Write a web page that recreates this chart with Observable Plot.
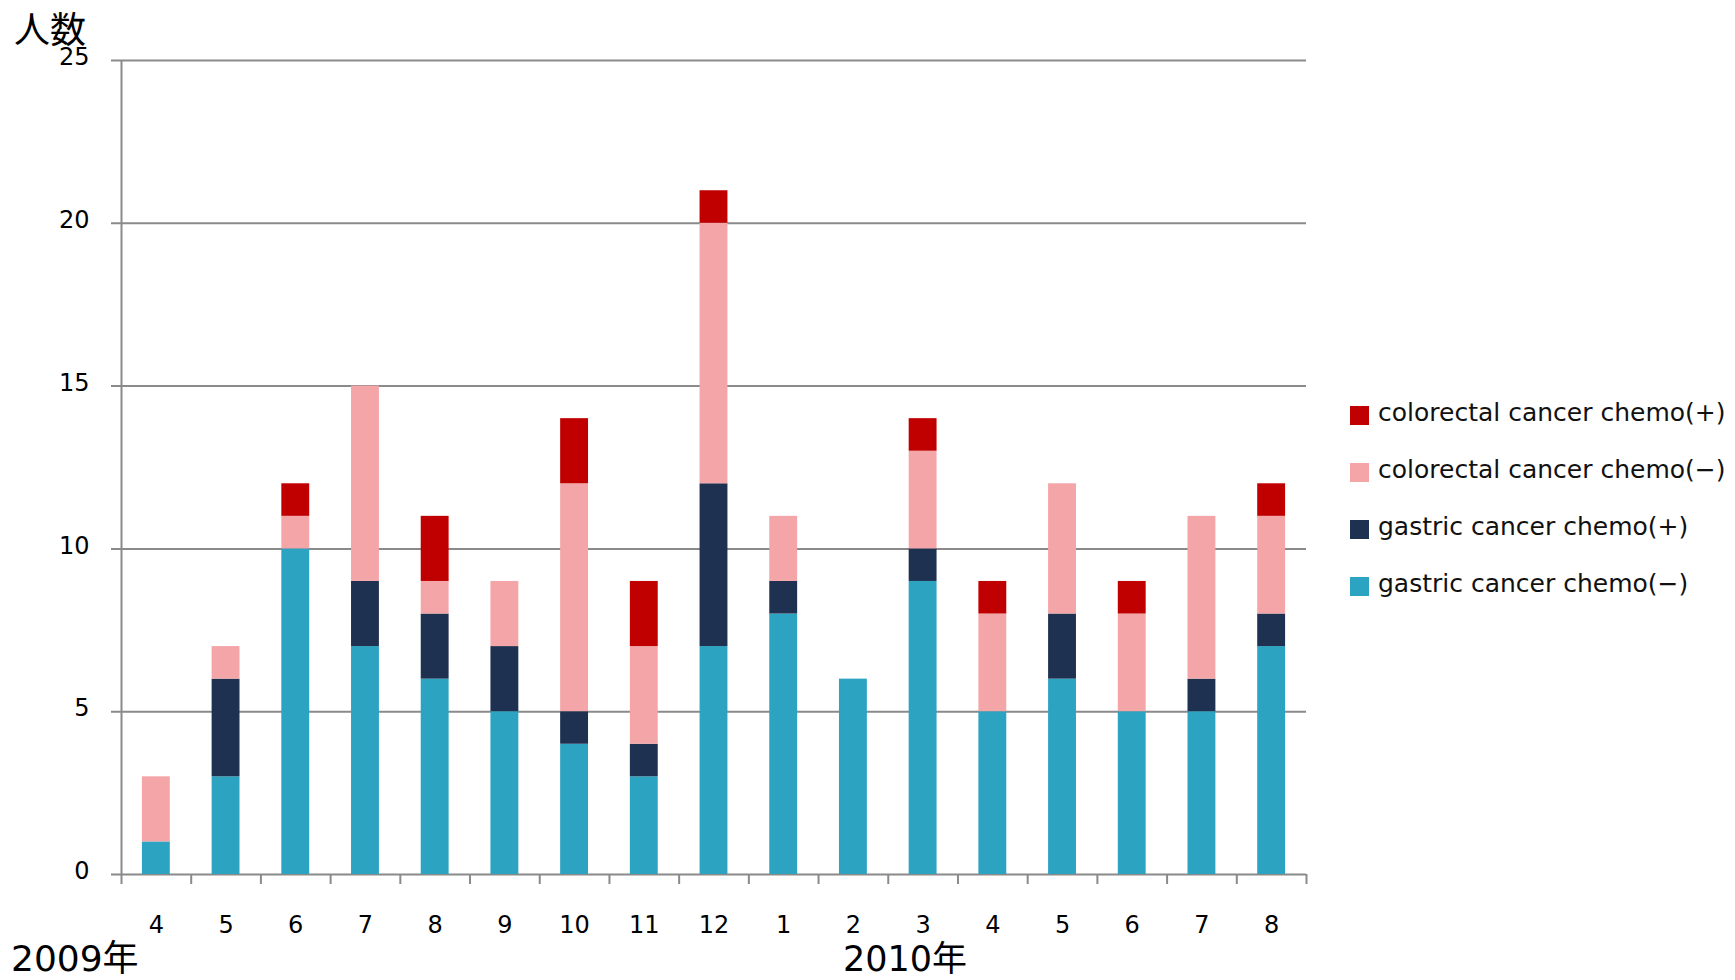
<!DOCTYPE html>
<html>
<head>
<meta charset="utf-8">
<script src="https://cdn.jsdelivr.net/npm/d3@7"></script>
<script src="https://cdn.jsdelivr.net/npm/@observablehq/plot@0.6"></script>
<style>
  html, body { margin: 0; padding: 0; background: #fff; }
  #wrap { position: relative; width: 1735px; height: 980px; overflow: hidden; background: #fff; }
  #chart { position: absolute; left: 0; top: 0; }
  .lbl { position: absolute; white-space: nowrap; color: #000; font-family: "DejaVu Sans", "Noto Sans CJK JP", sans-serif; line-height: 1; }
  #legend { position: absolute; left: 1350px; top: 406px; font-family: "DejaVu Sans", sans-serif; font-size: 25px; color: #111; }
  .item { position: relative; height: 57px; }
  .sw { position: absolute; left: 0; top: 0; width: 19px; height: 19px; }
  .txt { position: absolute; left: 28px; top: -8px; line-height: 1.2; white-space: nowrap; }
  #deco { position: absolute; left: -119px; top: 972px; width: 158px; height: 158px; border-radius: 50%; background: #2a7f96; }
</style>
</head>
<body>
<div id="wrap">
  <div id="chart"></div>
  <div class="lbl" style="left:14px; top:13px; font-size:36px;">人数</div>
  <div class="lbl" style="left:11px; top:941px; font-size:36px;">2009年</div>
  <div class="lbl" style="left:843px; top:942px; font-size:35px;">2010年</div>
  <div id="legend"></div>
  <div id="deco"></div>
</div>
<script>
// ---- data ----
const months = ["4","5","6","7","8","9","10","11","12","1","2","3","4","5","6","7","8"];
const years  = [2009,2009,2009,2009,2009,2009,2009,2009,2009,2010,2010,2010,2010,2010,2010,2010,2010];
const gastricMinus    = [1,3,10,7,6,5,4,3,7,8,6,9,5,6,5,5,7];
const gastricPlus     = [0,3,0,2,2,2,1,1,5,1,0,1,0,2,0,1,1];
const colorectalMinus = [2,1,1,6,1,2,7,3,8,2,0,3,3,4,3,5,3];
const colorectalPlus  = [0,0,1,0,2,0,2,2,1,0,0,1,1,0,1,0,1];
const seriesNames = ["gastric cancer chemo(−)", "gastric cancer chemo(+)", "colorectal cancer chemo(−)", "colorectal cancer chemo(+)"];
const seriesColors = ["#2ca3c0", "#1f3150", "#f3a5a8", "#c00000"];
const yTicks = [0, 5, 10, 15, 20, 25];

// ---- build table ----
const keys = months.map((m, i) => `${years[i]}-${m}`);
const labelOf = new Map(keys.map((k, i) => [k, months[i]]));
const seriesValues = [gastricMinus, gastricPlus, colorectalMinus, colorectalPlus];
const data = [];
seriesNames.forEach((s, j) => {
  keys.forEach((k, i) => data.push({key: k, series: s, value: seriesValues[j][i]}));
});

const W = 1735, H = 980, ML = 121, MR = 429, MT = 60, MB = 106;
const step = (W - ML - MR) / keys.length;
const grey = "#8a8a8a";

const chart = Plot.plot({
  width: W, height: H,
  marginLeft: ML, marginRight: MR, marginTop: MT, marginBottom: MB,
  style: {fontFamily: "DejaVu Sans, sans-serif", fontSize: "24px", background: "transparent", color: "#000"},
  x: {domain: keys, paddingInner: 0.6, paddingOuter: 0.3, round: false, axis: null},
  y: {domain: [0, 25], axis: null},
  color: {domain: seriesNames, range: seriesColors},
  marks: [
    Plot.ruleY(yTicks, {y: d => d, stroke: grey, strokeWidth: 2, insetLeft: -10}),
    Plot.barY(data, {x: "key", y: "value", fill: "series", order: seriesNames}),
    Plot.ruleX([keys[0]], {x: d => d, dx: -step / 2, stroke: grey, strokeWidth: 2}),
    Plot.ruleX(keys, {x: d => d, dx: -step / 2, y1: 0, y2: 0, insetBottom: -10, stroke: grey, strokeWidth: 2}),
    Plot.ruleX([keys[keys.length - 1]], {x: d => d, dx: step / 2, y1: 0, y2: 0, insetBottom: -10, stroke: grey, strokeWidth: 2}),
    Plot.text(yTicks, {y: d => d, text: d => String(d), frameAnchor: "left", dx: -32, dy: -3, textAnchor: "end", fontSize: 24, fill: "#000"}),
    Plot.text(keys, {x: d => d, text: d => labelOf.get(d), frameAnchor: "bottom", dy: 58, fontSize: 24, fill: "#000"})
  ]
});
document.getElementById("chart").appendChild(chart);

// ---- legend (top item = top of stack) ----
const legend = document.getElementById("legend");
for (let j = seriesNames.length - 1; j >= 0; j--) {
  const item = document.createElement("div");
  item.className = "item";
  item.innerHTML = `<div class="sw" style="background:${seriesColors[j]}"></div><div class="txt">${seriesNames[j]}</div>`;
  legend.appendChild(item);
}
</script>
</body>
</html>
